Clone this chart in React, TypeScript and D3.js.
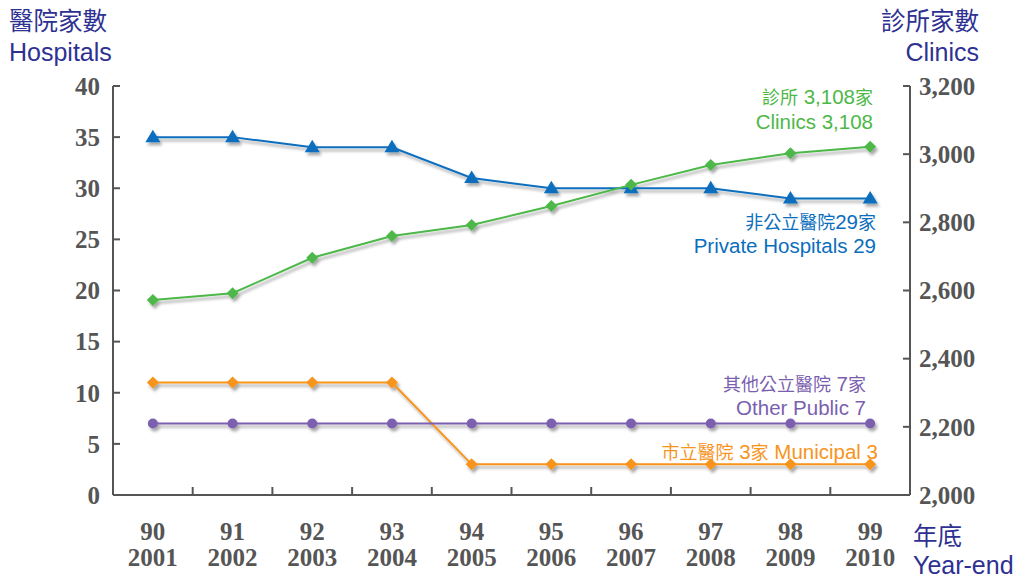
import React from "react";
import * as d3 from "d3";

const rocYears = ["90", "91", "92", "93", "94", "95", "96", "97", "98", "99"];
const adYears = ["2001", "2002", "2003", "2004", "2005", "2006", "2007", "2008", "2009", "2010"];
const privateHospitals = [35, 35, 34, 34, 31, 30, 30, 30, 29, 29];
const otherPublic = [7, 7, 7, 7, 7, 7, 7, 7, 7, 7];
const municipal = [11, 11, 11, 11, 3, 3, 3, 3, 3, 3];
const clinics = [2572, 2592, 2696, 2760, 2792, 2848, 2910, 2968, 3003, 3022];
const leftTicks = [0, 5, 10, 15, 20, 25, 30, 35, 40];
const rightTicks = [2000, 2200, 2400, 2600, 2800, 3000, 3200];

const W = 1019;
const H = 579;
const X0 = 113;
const X1 = 910;
const Y0 = 495;
const Y1 = 86;

const GREEN = "#4DB848";
const BLUE = "#0A6EBD";
const PURPLE = "#7B5FAF";
const ORANGE = "#F7941D";
const NAVY = "#2E3192";
const GRAY = "#555555";
const SANS = "'Liberation Sans', Arial, 'Noto Sans CJK TC', sans-serif";
const SERIF = "'Liberation Serif', 'Times New Roman', serif";

function Mixed({ text, cjk, latin }: { text: string; cjk: number; latin: number }) {
  const parts = text.match(/[\u3000-\u9fff]+|[^\u3000-\u9fff]+/g) || [];
  return (
    <>
      {parts.map((p, i) => (
        <tspan key={i} fontSize={/[\u3000-\u9fff]/.test(p) ? cjk : latin}>{p}</tspan>
      ))}
    </>
  );
}

export default function App() {
  const x = d3.scaleBand<string>().domain(adYears).range([X0, X1]);
  const yL = d3.scaleLinear().domain([0, 40]).range([Y0, Y1]);
  const yR = d3.scaleLinear().domain([2000, 3200]).range([Y0, Y1]);
  const cx = (i: number) => (x(adYears[i]) as number) + x.bandwidth() / 2;

  const lineL = d3.line<number>().x((_, i) => cx(i)).y((d) => yL(d));
  const lineR = d3.line<number>().x((_, i) => cx(i)).y((d) => yR(d));

  const diamond = (px: number, py: number, r: number) =>
    `M${px},${py - r}L${px + r},${py}L${px},${py + r}L${px - r},${py}Z`;
  const triangle = (px: number, py: number) =>
    `M${px},${py - 7.5}L${px + 7.5},${py + 5}L${px - 7.5},${py + 5}Z`;

  const boundaries = adYears.slice(1).map((d) => x(d) as number);

  return (
    <svg width={W} height={H} style={{ position: "absolute", left: 0, top: 0, background: "#fff" }}>
      <defs>
        <filter id="sh" x="-20%" y="-20%" width="140%" height="160%">
          <feDropShadow dx="2" dy="3" stdDeviation="1.6" floodColor="#000" floodOpacity="0.35" />
        </filter>
      </defs>

      {/* titles */}
      <g fontFamily={SANS} fill={NAVY}>
        <text x={9} y={30} fontSize={24.5}>醫院家數</text>
        <text x={9} y={61} fontSize={25}>Hospitals</text>
        <text x={979} y={30} fontSize={24.5} textAnchor="end">診所家數</text>
        <text x={979} y={61} fontSize={25} textAnchor="end">Clinics</text>
        <text x={913} y={545} fontSize={24.5}>年底</text>
        <text x={913} y={574} fontSize={25}>Year-end</text>
      </g>

      {/* axes */}
      <g stroke={GRAY} strokeWidth={2} fill="none">
        <line x1={X0} y1={Y1} x2={X0} y2={Y0} />
        <line x1={X1} y1={Y1} x2={X1} y2={Y0} />
        <line x1={X0} y1={Y0} x2={X1} y2={Y0} />
        {leftTicks.map((t) => (
          <line key={"lt" + t} x1={X0} x2={X0 + 7} y1={yL(t)} y2={yL(t)} />
        ))}
        {rightTicks.map((t) => (
          <line key={"rt" + t} x1={X1 - 7} x2={X1} y1={yR(t)} y2={yR(t)} />
        ))}
        {boundaries.map((b, i) => (
          <line key={"xt" + i} x1={b} x2={b} y1={Y0} y2={Y0 - 8} />
        ))}
      </g>

      <g fontFamily={SERIF} fontWeight="bold" fontSize={25} fill={GRAY}>
        {leftTicks.map((t) => (
          <text key={"ll" + t} x={100} y={yL(t)} dy="0.35em" textAnchor="end">{t}</text>
        ))}
        {rightTicks.map((t) => (
          <text key={"rl" + t} x={919} y={yR(t)} dy="0.35em">{d3.format(",")(t)}</text>
        ))}
        {adYears.map((d, i) => (
          <g key={"xl" + d}>
            <text x={cx(i)} y={540} textAnchor="middle">{rocYears[i]}</text>
            <text x={cx(i)} y={566} textAnchor="middle">{d}</text>
          </g>
        ))}
      </g>

      {/* series */}
      <g filter="url(#sh)">
        <path d={lineL(municipal) as string} stroke={ORANGE} strokeWidth={2} fill="none" />
        {municipal.map((v, i) => (
          <path key={"m" + i} d={diamond(cx(i), yL(v), 6)} fill={ORANGE} />
        ))}
        <path d={lineL(otherPublic) as string} stroke={PURPLE} strokeWidth={2} fill="none" />
        {otherPublic.map((v, i) => (
          <circle key={"o" + i} cx={cx(i)} cy={yL(v)} r={5} fill={PURPLE} />
        ))}
        <path d={lineL(privateHospitals) as string} stroke={BLUE} strokeWidth={2} fill="none" />
        {privateHospitals.map((v, i) => (
          <path key={"p" + i} d={triangle(cx(i), yL(v))} fill={BLUE} />
        ))}
        <path d={lineR(clinics) as string} stroke={GREEN} strokeWidth={2} fill="none" />
        {clinics.map((v, i) => (
          <path key={"c" + i} d={diamond(cx(i), yR(v), 6)} fill={GREEN} />
        ))}
      </g>

      {/* annotations */}
      <g fontFamily={SANS} textAnchor="end">
        <text x={873} y={104} fill={GREEN}><Mixed text="診所 3,108家" cjk={18} latin={20.5} /></text>
        <text x={873} y={129} fill={GREEN}><Mixed text="Clinics 3,108" cjk={18} latin={20.5} /></text>
        <text x={876} y={229} fill={BLUE}><Mixed text="非公立醫院29家" cjk={18} latin={20.5} /></text>
        <text x={876} y={253} fill={BLUE}><Mixed text="Private Hospitals 29" cjk={18} latin={20.5} /></text>
        <text x={866} y={391} fill={PURPLE}><Mixed text="其他公立醫院 7家" cjk={18} latin={20.5} /></text>
        <text x={866} y={415} fill={PURPLE}><Mixed text="Other Public 7" cjk={18} latin={20.5} /></text>
        <text x={878} y={459} fill={ORANGE}><Mixed text="市立醫院 3家 Municipal 3" cjk={18} latin={20.5} /></text>
      </g>
    </svg>
  );
}
